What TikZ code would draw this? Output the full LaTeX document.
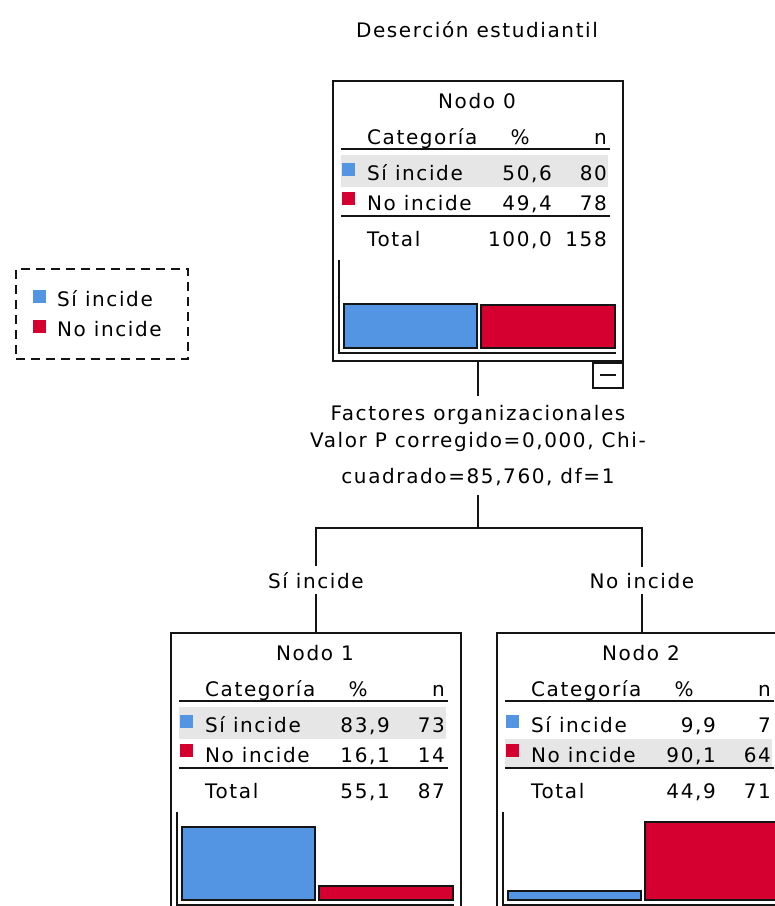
\documentclass[tikz,border=0pt]{standalone}
\usepackage{fontspec}
\newfontfamily\spssfont[LetterSpace=8]{DejaVu Sans}
\usetikzlibrary{positioning}
\definecolor{siblue}{HTML}{5495E3}
\definecolor{nored}{HTML}{D5002F}
\definecolor{rowgray}{HTML}{E6E6E6}
\definecolor{framecol}{HTML}{141414}
\tikzset{
  lbl/.style={font=\spssfont\fontsize{20}{27}\selectfont, inner sep=0pt, text=black},
  nodebox/.style={draw=framecol, line width=1.9pt, fill=white, minimum width=290pt, minimum height=280pt, anchor=north west, inner sep=0pt},
  rulebar/.style={line width=2pt, framecol},
  bar/.style={draw=framecol, line width=1.7pt},
  link/.style={line width=2pt, framecol},
}

\begin{document}
\begin{tikzpicture}[x=1pt,y=-1pt]
    \useasboundingbox (0,0) rectangle (775,906);
    \clip (0,0) rectangle (775,906);
    \fill[white] (0,0) rectangle (775,906);

    % Title
    \node[lbl,anchor=base] (title) at (477,37) {Deserción estudiantil};

    % Legend
    \node[draw=framecol,line width=1.8pt,dash pattern=on 9pt off 6pt,minimum width=172pt,minimum height=90pt,anchor=north west] (legend) at (15,268) {};
    \fill[siblue] (33,290) rectangle (46,303);
    \node[lbl,anchor=base west] (legsi) at (57,306) {Sí incide};
    \fill[nored] (33,320) rectangle (46,333);
    \node[lbl,anchor=base west] (legno) at (57,336) {No incide};

    % Nodo 0
    \begin{scope}[shift={(332,80)}]
    \node[nodebox] (n0) at (0,0) {};
    \node[lbl,anchor=base] at (145,28) {Nodo 0};
    \node[lbl,anchor=base west] at (35,64) {Categoría};
    \node[lbl,anchor=base] at (188,64) {\%};
    \node[lbl,anchor=base east] at (275,64) {n};
    \draw[rulebar] (9,69) -- (278,69);
    \fill[rowgray] (9,75) rectangle (276,107);
    \fill[siblue] (10,83) rectangle (23,96);
    \node[lbl,anchor=base west] at (35,100) {Sí incide};
    \node[lbl,anchor=base east] at (220,100) {50,6};
    \node[lbl,anchor=base east] at (275,100) {80};
    \fill[nored] (10,112) rectangle (23,125);
    \node[lbl,anchor=base west] at (35,130) {No incide};
    \node[lbl,anchor=base east] at (220,130) {49,4};
    \node[lbl,anchor=base east] at (275,130) {78};
    \draw[rulebar] (9,136) -- (278,136);
    \node[lbl,anchor=base west] at (35,166) {Total};
    \node[lbl,anchor=base east] at (220,166) {100,0};
    \node[lbl,anchor=base east] at (275,166) {158};
    \draw[rulebar] (7,180) -- (7,273) -- (284,273);
    \filldraw[bar,fill=siblue] (12,268) rectangle (145,224);
    \filldraw[bar,fill=nored] (149,268) rectangle (283,225);
    \end{scope}
    \node[draw=framecol,line width=1.9pt,minimum width=30pt,minimum height=25pt,inner sep=0pt,anchor=north east] (collapse) at (n0.south east) {};
    \draw[rulebar] ([xshift=-8pt]collapse.center) -- ([xshift=8pt]collapse.center);

    % Split
    \node[lbl,align=center,anchor=north,inner sep=9pt] (split) at (n0.south |- 0,396) {Factores organizacionales\\Valor P corregido=0,000, Chi-\\[9pt]cuadrado=85,760, df=1};
    \coordinate (fork) at (split.south |- 0,528);

    % Nodo 1
    \begin{scope}[shift={(170,632)}]
    \node[nodebox] (n1) at (0,0) {};
    \node[lbl,anchor=base] at (145,28) {Nodo 1};
    \node[lbl,anchor=base west] at (35,64) {Categoría};
    \node[lbl,anchor=base] at (188,64) {\%};
    \node[lbl,anchor=base east] at (275,64) {n};
    \draw[rulebar] (9,69) -- (278,69);
    \fill[rowgray] (9,75) rectangle (276,107);
    \fill[siblue] (10,83) rectangle (23,96);
    \node[lbl,anchor=base west] at (35,100) {Sí incide};
    \node[lbl,anchor=base east] at (220,100) {83,9};
    \node[lbl,anchor=base east] at (275,100) {73};
    \fill[nored] (10,112) rectangle (23,125);
    \node[lbl,anchor=base west] at (35,130) {No incide};
    \node[lbl,anchor=base east] at (220,130) {16,1};
    \node[lbl,anchor=base east] at (275,130) {14};
    \draw[rulebar] (9,136) -- (278,136);
    \node[lbl,anchor=base west] at (35,166) {Total};
    \node[lbl,anchor=base east] at (220,166) {55,1};
    \node[lbl,anchor=base east] at (275,166) {87};
    \draw[rulebar] (7,180) -- (7,273) -- (284,273);
    \filldraw[bar,fill=siblue] (12,268) rectangle (145,195);
    \filldraw[bar,fill=nored] (149,268) rectangle (283,254);
    \end{scope}

    % Nodo 2
    \begin{scope}[shift={(496,632)}]
    \node[nodebox] (n2) at (0,0) {};
    \node[lbl,anchor=base] at (145,28) {Nodo 2};
    \node[lbl,anchor=base west] at (35,64) {Categoría};
    \node[lbl,anchor=base] at (188,64) {\%};
    \node[lbl,anchor=base east] at (275,64) {n};
    \draw[rulebar] (9,69) -- (278,69);
    \fill[rowgray] (9,107) rectangle (276,135);
    \fill[siblue] (10,83) rectangle (23,96);
    \node[lbl,anchor=base west] at (35,100) {Sí incide};
    \node[lbl,anchor=base east] at (220,100) {9,9};
    \node[lbl,anchor=base east] at (275,100) {7};
    \fill[nored] (10,112) rectangle (23,125);
    \node[lbl,anchor=base west] at (35,130) {No incide};
    \node[lbl,anchor=base east] at (220,130) {90,1};
    \node[lbl,anchor=base east] at (275,130) {64};
    \draw[rulebar] (9,136) -- (278,136);
    \node[lbl,anchor=base west] at (35,166) {Total};
    \node[lbl,anchor=base east] at (220,166) {44,9};
    \node[lbl,anchor=base east] at (275,166) {71};
    \draw[rulebar] (7,180) -- (7,273) -- (284,273);
    \filldraw[bar,fill=siblue] (12,268) rectangle (145,259);
    \filldraw[bar,fill=nored] (149,268) rectangle (283,190);
    \end{scope}

    % Edge labels
    \node[lbl,anchor=base,inner sep=6pt] (e1) at (n1.north |- 0,588) {Sí incide};
    \node[lbl,anchor=base,inner sep=6pt] (e2) at (n2.north |- 0,588) {No incide};

    % Connectors
    \draw[link] (n0.south) -- (split.north);
    \draw[link] (split.south) -- (fork);
    \draw[link] (e1.north) |- (fork) -| (e2.north);
    \draw[link] (e1.south) -- (n1.north);
    \draw[link] (e2.south) -- (n2.north);
\end{tikzpicture}
\end{document}
